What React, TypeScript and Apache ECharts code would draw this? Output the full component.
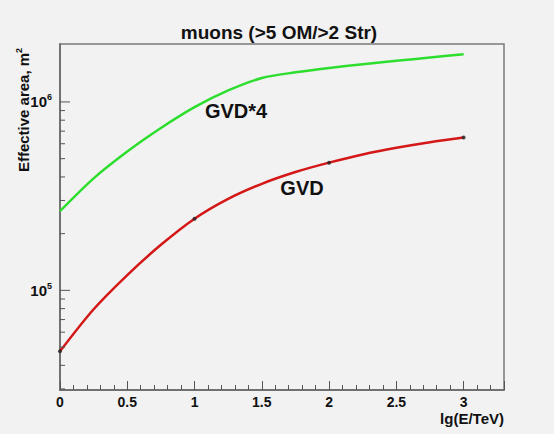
import React, { useEffect, useRef } from "react";
import * as echarts from "echarts";

// lg(E/TeV)
const energies = [0, 0.25, 0.5, 0.75, 1, 1.25, 1.5, 1.75, 2, 2.25, 2.5, 2.75, 3];
// Effective area, m^2
const gvd = [47500, 79400, 120600, 174500, 240200, 306000, 367800, 424600, 476200, 526300, 571000, 611300, 647400];
const gvd4 = [263000, 392900, 545200, 726700, 937600, 1150400, 1339700, 1436000, 1515000, 1584900, 1652000, 1720000, 1792000];
// computed points (markers) of GVD
const markerEnergies = [0, 1, 2, 3];
// y axis ticks
const yMajorTicks = [1e5, 1e6];
const yMinorTicks = [3e4, 4e4, 5e4, 6e4, 7e4, 8e4, 9e4, 2e5, 3e5, 4e5, 5e5, 6e5, 7e5, 8e5, 9e5];

const TITLE = "muons (>5 OM/>2 Str)";
const Y_NAME = "Effective area, m";
const X_NAME = "lg(E/TeV)";

const FONT = "'Liberation Sans', Arial, Helvetica, sans-serif";
const X_MIN = 0;
const X_MAX = 3.3;

export default function App() {
  const ref = useRef<HTMLDivElement>(null);
  useEffect(() => {
    document.body.style.margin = "0";
    if (!ref.current) return;
    const chart = echarts.init(ref.current, null, { renderer: "svg" });

    const tickSeries = (vals: number[], len: number) => ({
      type: "custom",
      coordinateSystem: "cartesian2d",
      silent: true,
      z: 5,
      encode: { x: 0, y: 1 },
      data: vals.map((v) => [X_MIN, v]),
      renderItem: (params: any, api: any) => {
        const p = api.coord([X_MIN, api.value(1)]);
        return {
          type: "line",
          shape: { x1: p[0], y1: p[1], x2: p[0] + len, y2: p[1] },
          style: { stroke: "#555", lineWidth: 1 },
        };
      },
    });

    const markerData = markerEnergies.map((e) => {
      const i = energies.indexOf(e);
      return [energies[i], gvd[i]];
    });

    chart.setOption({
      animation: false,
      backgroundColor: "#f2f2f2",
      grid: {
        left: 60,
        top: 44,
        right: 50,
        bottom: 44,
        show: true,
        borderColor: "#7a7a7a",
        borderWidth: 1.5,
        backgroundColor: "transparent",
      },
      xAxis: {
        type: "value",
        min: X_MIN,
        max: X_MAX,
        interval: 0.5,
        splitLine: { show: false },
        axisLine: { show: true, lineStyle: { color: "#666", width: 1.5 } },
        axisTick: { show: true, inside: true, length: 9, lineStyle: { color: "#555", width: 1 } },
        minorTick: { show: true, splitNumber: 5, length: 5, lineStyle: { color: "#555", width: 1 } },
        minorSplitLine: { show: false },
        axisLabel: {
          margin: 5,
          showMaxLabel: false,
          color: "#111",
          fontFamily: FONT,
          fontWeight: "bold",
          fontSize: 14,
          formatter: (v: number) => (v > 3.01 ? "" : String(v)),
        },
      },
      yAxis: {
        type: "log",
        logBase: 10,
        min: 29600,
        max: 2030000,
        splitLine: { show: false },
        axisLine: { show: true, lineStyle: { color: "#666", width: 1.5 } },
        axisTick: { show: false },
        axisLabel: {
          margin: 8,
          showMinLabel: false,
          showMaxLabel: false,
          formatter: (v: number) => {
            const l = Math.log10(v);
            const e = Math.round(l);
            if (Math.abs(l - e) > 1e-6) return "";
            return `{b|10}{s|${e}}`;
          },
          rich: {
            b: { fontFamily: FONT, fontWeight: "bold", fontSize: 15, color: "#111" },
            s: { fontFamily: FONT, fontWeight: "bold", fontSize: 9, color: "#111", verticalAlign: "bottom", padding: [0, 0, 9, 0] },
          },
        },
      },
      graphic: [
        {
          type: "text",
          x: 279,
          y: 32,
          style: {
            text: TITLE,
            align: "center",
            verticalAlign: "middle",
            fontFamily: FONT,
            fontWeight: "bold",
            fontSize: 19,
            fill: "#111",
          },
        },
        {
          type: "text",
          x: 23,
          y: 110,
          rotation: Math.PI / 2,
          style: {
            text: `{n|${Y_NAME}}{s|2}`,
            align: "center",
            verticalAlign: "middle",
            rich: {
              n: { fontFamily: FONT, fontWeight: "bold", fontSize: 15, fill: "#111" },
              s: { fontFamily: FONT, fontWeight: "bold", fontSize: 9, fill: "#111", verticalAlign: "bottom", padding: [0, 0, 9, 0] },
            },
          },
        },
        {
          type: "text",
          x: 504,
          y: 418,
          style: {
            text: X_NAME,
            align: "right",
            verticalAlign: "middle",
            fontFamily: FONT,
            fontWeight: "bold",
            fontSize: 15,
            fill: "#111",
          },
        },
        {
          type: "text",
          x: 236,
          y: 111,
          style: {
            text: "GVD*4",
            align: "center",
            verticalAlign: "middle",
            fontFamily: FONT,
            fontWeight: "bold",
            fontSize: 20,
            fill: "#111",
          },
        },
        {
          type: "text",
          x: 302,
          y: 188,
          style: {
            text: "GVD",
            align: "center",
            verticalAlign: "middle",
            fontFamily: FONT,
            fontWeight: "bold",
            fontSize: 20,
            fill: "#111",
          },
        },
      ],
      series: [
        {
          name: "GVD*4",
          type: "line",
          data: energies.map((e, i) => [e, gvd4[i]]),
          smooth: 0.3,
          symbol: "none",
          lineStyle: { color: "#2ede2e", width: 2.5 },
          z: 3,
        },
        {
          name: "GVD",
          type: "line",
          data: energies.map((e, i) => [e, gvd[i]]),
          smooth: 0.3,
          symbol: "none",
          lineStyle: { color: "#d41818", width: 2.5 },
          z: 3,
        },
        {
          name: "GVD points",
          type: "scatter",
          data: markerData,
          symbol: "circle",
          symbolSize: 4,
          itemStyle: { color: "#222" },
          z: 4,
        },
        tickSeries(yMajorTicks, 10),
        tickSeries(yMinorTicks, 5),
      ],
    });
    return () => chart.dispose();
  }, []);
  return <div ref={ref} style={{ width: 554, height: 434 }} />;
}
